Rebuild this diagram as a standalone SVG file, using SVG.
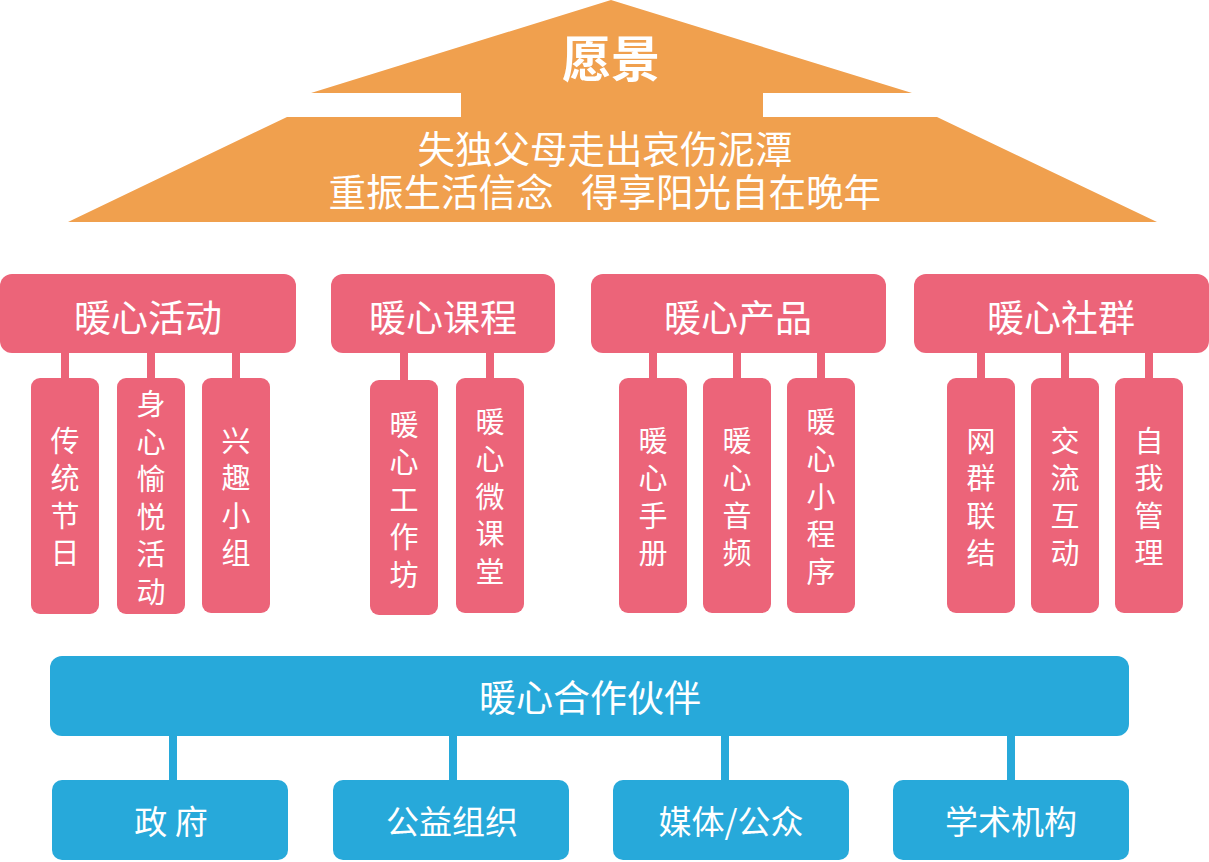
<svg xmlns="http://www.w3.org/2000/svg" width="1209" height="862" viewBox="0 0 1209 862">
<style>
.roof{fill:#F0A04E}
.pk{fill:#EC6479}
.bl{fill:#27A9DA}
.pkl{stroke:#EC6479;stroke-width:8}
.bll{stroke:#27A9DA;stroke-width:8}
text{fill:#fff;font-family:"Noto Sans CJK SC","Liberation Sans",sans-serif;text-anchor:middle}
.h{font-size:37px}
.v{font-size:29px;writing-mode:vertical-rl;letter-spacing:8.5px}
.r{font-size:37.5px}
.b{font-size:33px}
</style>
<rect width="1209" height="862" fill="#fff"/>
<g id="vision">
<polygon class="roof" points="611,0 912,93 763,93 763,117 937,117 1157,222 68,222 287,117 461,117 461,93 311,93"/>
<text x="611" y="77" style="font-size:49px;font-weight:bold">愿景</text>
<text class="r" x="605" y="163">失独父母走出哀伤泥潭</text>
<text class="r" x="441" y="206">重振生活信念</text>
<text class="r" x="731" y="206">得享阳光自在晚年</text>
</g>
<g id="connectors">
<line class="pkl" x1="65" y1="350" x2="65" y2="382"/>
<line class="pkl" x1="151" y1="350" x2="151" y2="382"/>
<line class="pkl" x1="236" y1="350" x2="236" y2="382"/>
<line class="pkl" x1="404" y1="350" x2="404" y2="384"/>
<line class="pkl" x1="490" y1="350" x2="490" y2="382"/>
<line class="pkl" x1="653" y1="350" x2="653" y2="382"/>
<line class="pkl" x1="737" y1="350" x2="737" y2="382"/>
<line class="pkl" x1="821" y1="350" x2="821" y2="382"/>
<line class="pkl" x1="981" y1="350" x2="981" y2="382"/>
<line class="pkl" x1="1065" y1="350" x2="1065" y2="382"/>
<line class="pkl" x1="1149" y1="350" x2="1149" y2="382"/>
<line class="bll" x1="173" y1="732" x2="173" y2="784"/>
<line class="bll" x1="453" y1="732" x2="453" y2="784"/>
<line class="bll" x1="725" y1="732" x2="725" y2="784"/>
<line class="bll" x1="1011" y1="732" x2="1011" y2="784"/>
</g>
<g id="h1"><rect class="pk" x="0" y="274" width="296" height="79" rx="12"/><text class="h" x="148" y="332">暖心活动</text></g>
<g id="h2"><rect class="pk" x="331" y="274" width="224" height="79" rx="12"/><text class="h" x="443" y="332">暖心课程</text></g>
<g id="h3"><rect class="pk" x="591" y="274" width="295" height="79" rx="12"/><text class="h" x="738" y="332">暖心产品</text></g>
<g id="h4"><rect class="pk" x="914" y="274" width="295" height="79" rx="12"/><text class="h" x="1061" y="332">暖心社群</text></g>

<g id="c1"><rect class="pk" x="31" y="378" width="68" height="236" rx="9"/><text class="v" x="65" y="501">传统节日</text></g>
<g id="c2"><rect class="pk" x="117" y="378" width="68" height="236" rx="9"/><text class="v" x="151" y="502">身心愉悦活动</text></g>
<g id="c3"><rect class="pk" x="202" y="378" width="68" height="235" rx="9"/><text class="v" x="236" y="501">兴趣小组</text></g>
<g id="c4"><rect class="pk" x="370" y="380" width="68" height="235" rx="9"/><text class="v" x="404" y="504">暖心工作坊</text></g>
<g id="c5"><rect class="pk" x="456" y="378" width="68" height="235" rx="9"/><text class="v" x="490" y="501">暖心微课堂</text></g>
<g id="c6"><rect class="pk" x="619" y="378" width="68" height="235" rx="9"/><text class="v" x="653" y="501">暖心手册</text></g>
<g id="c7"><rect class="pk" x="703" y="378" width="68" height="235" rx="9"/><text class="v" x="737" y="501">暖心音频</text></g>
<g id="c8"><rect class="pk" x="787" y="378" width="68" height="235" rx="9"/><text class="v" x="821" y="501">暖心小程序</text></g>
<g id="c9"><rect class="pk" x="947" y="378" width="68" height="235" rx="9"/><text class="v" x="981" y="501">网群联结</text></g>
<g id="c10"><rect class="pk" x="1031" y="378" width="68" height="235" rx="9"/><text class="v" x="1065" y="501">交流互动</text></g>
<g id="c11"><rect class="pk" x="1115" y="378" width="68" height="235" rx="9"/><text class="v" x="1149" y="501">自我管理</text></g>

<g id="partners"><rect class="bl" x="50" y="656" width="1079" height="80" rx="12"/><text class="h" x="590" y="712">暖心合作伙伴</text></g>
<g id="p1"><rect class="bl" x="52" y="780" width="236" height="80" rx="10"/><text class="b" x="171" y="834">政 府</text></g>
<g id="p2"><rect class="bl" x="333" y="780" width="236" height="80" rx="10"/><text class="b" x="452" y="834">公益组织</text></g>
<g id="p3"><rect class="bl" x="613" y="780" width="236" height="80" rx="10"/><text class="b" x="731" y="834">媒体/公众</text></g>
<g id="p4"><rect class="bl" x="893" y="780" width="236" height="80" rx="10"/><text class="b" x="1011" y="834">学术机构</text></g>
</svg>
